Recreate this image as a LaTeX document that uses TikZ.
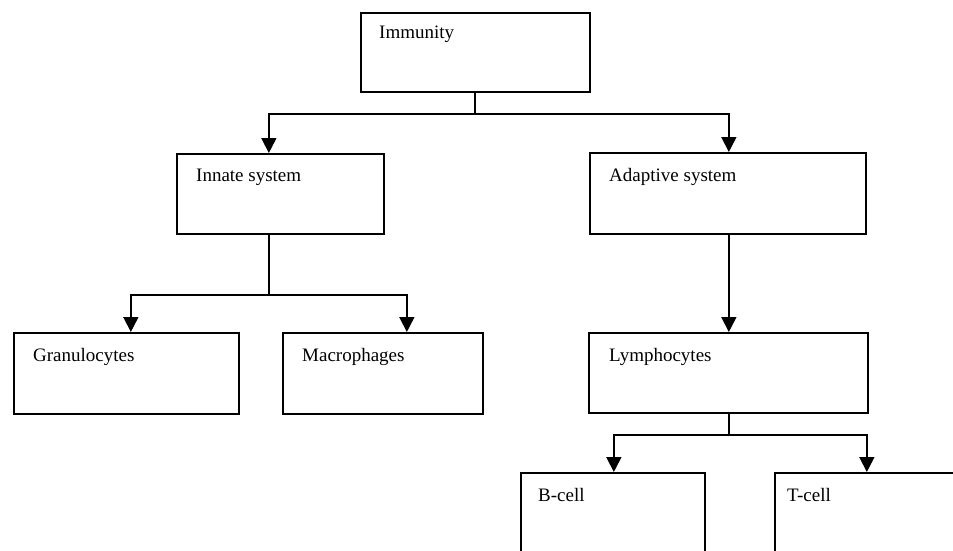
\documentclass[tikz,border=0pt]{standalone}
\usepackage{fontspec}
\setmainfont{Liberation Serif}
\usetikzlibrary{arrows.meta}

\tikzset{
  box/.style={draw=black, line width=1.7pt, rectangle, anchor=north west, inner sep=0pt},
  lbl/.style={anchor=base west, inner sep=0pt, font=\fontsize{19}{22}\selectfont},
  conn/.style={draw=black, line width=1.8pt},
  arr/.style={conn, -{Triangle[length=15pt,width=15pt]}},
}

\begin{document}
\begin{tikzpicture}[x=1pt,y=-1pt]
  \useasboundingbox (0,0) rectangle (953,551);
  \clip (0,0) rectangle (953,551);

  % boxes: corner at top left, then width and height
  \node[box, minimum width=229pt, minimum height=79pt] (imm)   at (360,12)  {};
  \node[box, minimum width=207pt, minimum height=80pt] (innate) at (176,153) {};
  \node[box, minimum width=276pt, minimum height=81pt] (adapt) at (589,152) {};
  \node[box, minimum width=225pt, minimum height=81pt] (gran)  at (13,332)  {};
  \node[box, minimum width=200pt, minimum height=81pt] (macro) at (282,332) {};
  \node[box, minimum width=279pt, minimum height=80pt] (lymph) at (588,332) {};
  \node[box, minimum width=184pt, minimum height=90pt] (bcell) at (520,472) {};
  \node[box, minimum width=184pt, minimum height=90pt] (tcell) at (774,472) {};

  % labels near the top left of each box
  \node[lbl] (immT)   at (379,39)  {Immunity};
  \node[lbl] (innT)   at (196,181) {Innate system};
  \node[lbl] (adaT)   at (609,181) {Adaptive system};
  \node[lbl] (graT)   at (33,361)  {Granulocytes};
  \node[lbl] (macT)   at (302,361) {Macrophages};
  \node[lbl] (lymT)   at (609,361) {Lymphocytes};
  \node[lbl] (bceT)   at (538,501) {B-cell};
  \node[lbl] (tceT)   at (787,501) {T-cell};

  % Immunity splits into the two systems
  \draw[conn] (imm.south) -- ++(0,21) coordinate (j1);
  \draw[arr] (j1) -| ([xshift=-11.5pt]innate.north);
  \draw[arr] (j1) -| ([xshift=1pt]adapt.north);

  % innate system branches
  \draw[conn] ([xshift=-11.5pt]innate.south) -- ++(0,60) coordinate (j2);
  \draw[arr] (j2) -| ([xshift=4.5pt]gran.north);
  \draw[arr] (j2) -| ([xshift=24pt]macro.north);

  % adaptive system to lymphocytes
  \draw[arr] ([xshift=1pt]adapt.south) -- ([xshift=0.5pt]lymph.north);

  % lymphocytes branch into B and T cells
  \draw[conn] ([xshift=0.5pt]lymph.south) -- ++(0,21) coordinate (j3);
  \draw[arr] (j3) -| ([xshift=1pt]bcell.north);
  \draw[arr] (j3) -| (tcell.north);
\end{tikzpicture}
\end{document}
